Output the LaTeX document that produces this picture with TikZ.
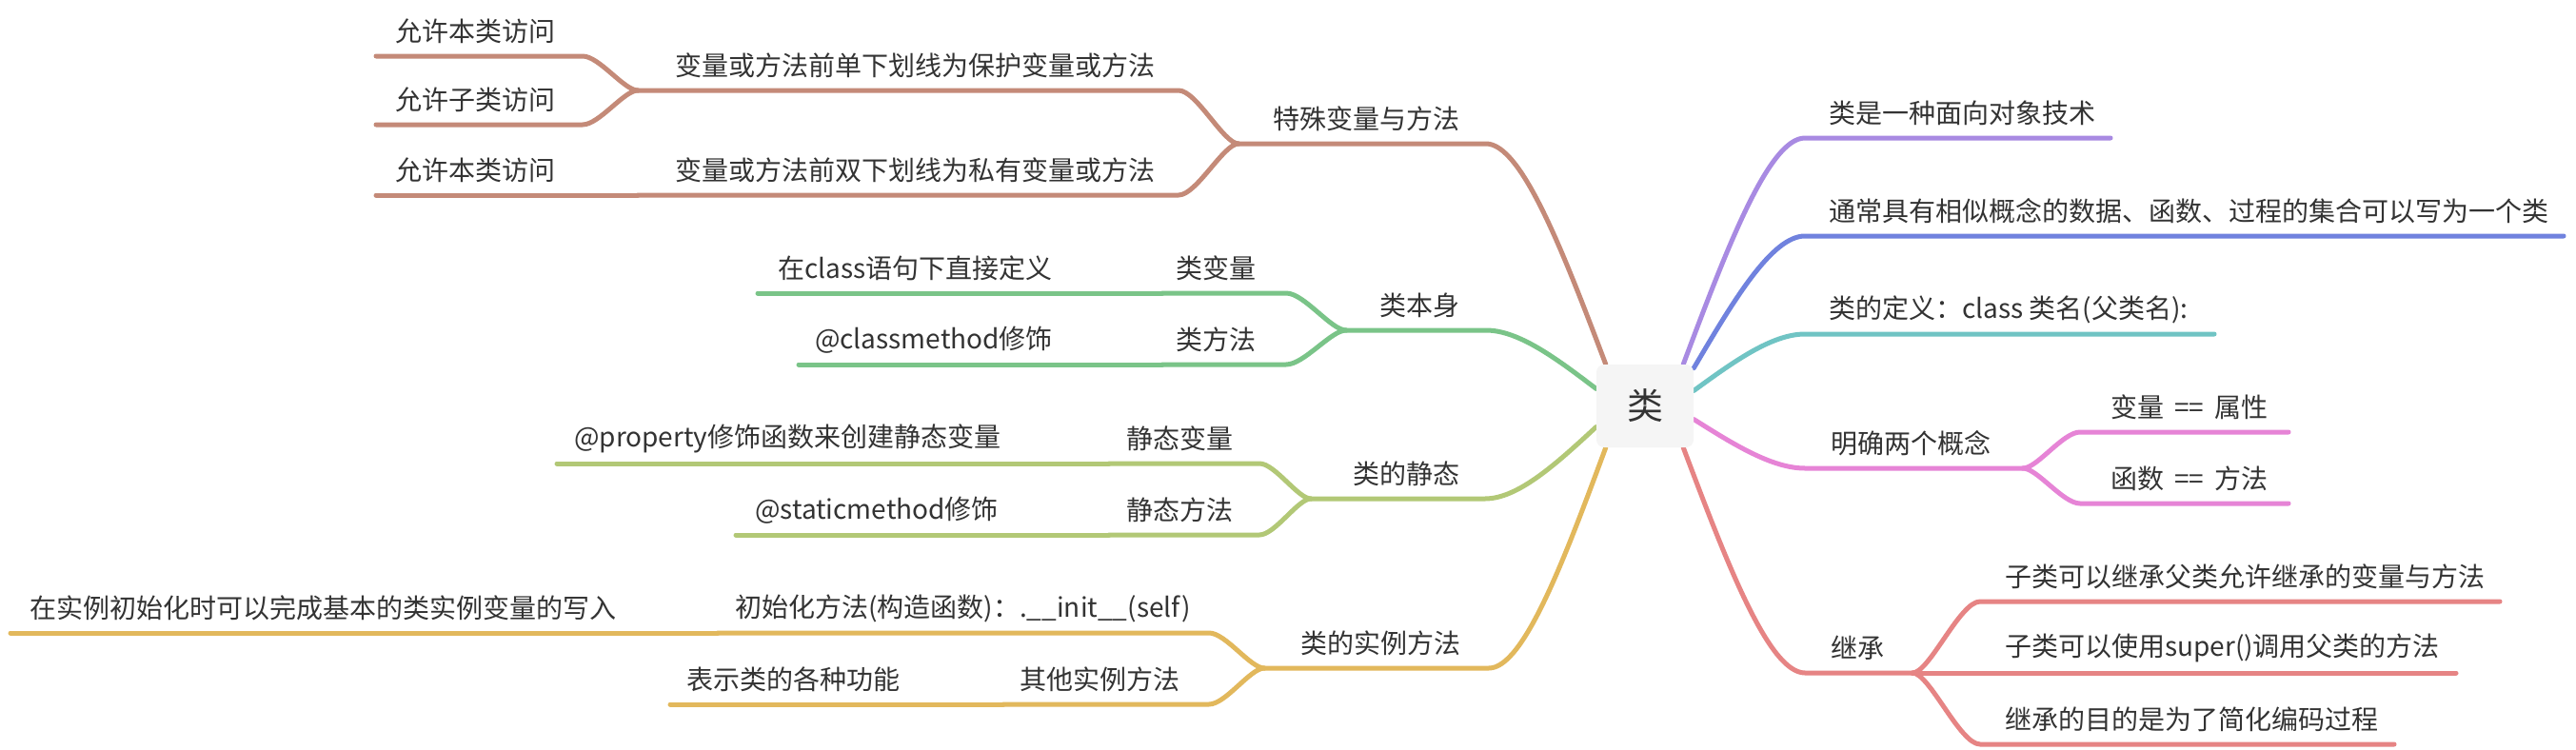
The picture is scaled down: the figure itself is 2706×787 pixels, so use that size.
\documentclass[tikz,border=0pt]{standalone}
\usepackage{fontspec}
\setmainfont{Noto Sans CJK SC}
\usetikzlibrary{calc,backgrounds}
\definecolor{cbrown}{RGB}{196,138,120}
\definecolor{cgreen}{RGB}{122,196,136}
\definecolor{cygreen}{RGB}{178,200,118}
\definecolor{cyellow}{RGB}{226,184,92}
\definecolor{cpurple}{RGB}{168,138,226}
\definecolor{cblue}{RGB}{112,130,222}
\definecolor{cteal}{RGB}{112,196,196}
\definecolor{cpink}{RGB}{230,132,214}
\definecolor{cred}{RGB}{230,132,132}
\definecolor{textc}{RGB}{51,51,51}
\definecolor{boxfill}{RGB}{245,245,245}
\begin{document}
\begin{tikzpicture}[x=1pt,y=-1pt,
  conn/.style={line width=5pt, line cap=round, line join=round},
  txt/.style={anchor=west, inner sep=0pt, text=textc, font=\fontsize{28}{34}\selectfont},
  widesp/.style={execute at begin node={\spaceskip=11pt\relax}},
  mainbr/.style={to path={let \p1=(\tikztostart), \p2=(\tikztotarget) in
     .. controls ({\x1+0.35*(\x2-\x1)},{\y1+0.5*(\y2-\y1)}) and ({\x2-0.3*(\x2-\x1)},\y2) .. (\tikztotarget)}},
  subbr/.style={to path={let \p1=(\tikztostart), \p2=(\tikztotarget) in
     .. controls ({\x1+0.25*(\x2-\x1)},\y1) and ({\x2-0.3*(\x2-\x1)},\y2) .. (\tikztotarget)}},
]
\useasboundingbox (0,0) rectangle (2706,787);

% root
\node[fill=boxfill, rounded corners=8pt, minimum width=102pt, minimum height=87pt,
      inner sep=0pt, text=textc, font=\fontsize{38}{44}\selectfont] (root) at (1728,426.5) {类};

% attachment points on the root
\coordinate (bR1) at ($(root.north east)+(-11,0)$);
\coordinate (bR2) at ($(root.north east)+(0,4)$);
\coordinate (bR3) at ($(root.east)+(0,-16)$);
\coordinate (bR4) at ($(root.east)+(0,14)$);
\coordinate (bR5) at ($(root.south east)+(-11,0)$);
\coordinate (bL1) at ($(root.north west)+(10,0)$);
\coordinate (bL2) at ($(root.west)+(0,-18)$);
\coordinate (bL3) at ($(root.west)+(0,22)$);
\coordinate (bL4) at ($(root.south west)+(10,0)$);

% ---------- right side ----------
\coordinate (sR1) at (1896,145); \coordinate (eR1) at (2217,145);
\node[txt] (tR1) at (1921,119) {类是一种面向对象技术};
\coordinate (sR2) at (1896,248); \coordinate (eR2) at (2693,248);
\node[txt] (tR2) at (1921,222) {通常具有相似概念的数据、函数、过程的集合可以写为一个类};
\coordinate (sR3) at (1896,351); \coordinate (eR3) at (2326,351);
\node[txt] (tR3) at (1921,325) {类的定义：class 类名(父类名):};
\coordinate (sR4) at (1896,492); \coordinate (eR4) at (2125,492);
\node[txt] (tR4) at (1923,466) {明确两个概念};
\coordinate (sR4a) at (2185,454); \coordinate (eR4a) at (2404,454);
\node[txt, widesp] (tR4a) at (2217,428) {变量 == 属性};
\coordinate (sR4b) at (2185,529); \coordinate (eR4b) at (2404,529);
\node[txt, widesp] (tR4b) at (2217,503) {函数 == 方法};
\coordinate (sR5) at (1896,707); \coordinate (eR5) at (2009,707);
\node[txt] (tR5) at (1923,681) {继承};
\coordinate (sR5a) at (2080,632); \coordinate (eR5a) at (2626,632);
\node[txt] (tR5a) at (2106,606) {子类可以继承父类允许继承的变量与方法};
\coordinate (eR5b) at (2580,707);
\node[txt] (tR5b) at (2106,681) {子类可以使用super()调用父类的方法};
\coordinate (sR5c) at (2080,782); \coordinate (eR5c) at (2515,782);
\node[txt] (tR5c) at (2106,756) {继承的目的是为了简化编码过程};

% ---------- left side ----------
\coordinate (sL1) at (1561,151); \coordinate (eL1) at (1301,151);
\node[txt] (tL1) at (1337,125) {特殊变量与方法};
\coordinate (sL1a) at (1238,95); \coordinate (eL1a) at (670,95);
\node[txt] (tL1a) at (709,69) {变量或方法前单下划线为保护变量或方法};
\coordinate (sL1a1) at (612,59); \coordinate (eL1a1) at (395,59);
\node[txt] (tL1a1) at (415,33) {允许本类访问};
\coordinate (sL1a2) at (612,131); \coordinate (eL1a2) at (395,131);
\node[txt] (tL1a2) at (415,105) {允许子类访问};
\coordinate (sL1b) at (1238,205); \coordinate (eL1b) at (670,205);
\node[txt] (tL1b) at (709,179) {变量或方法前双下划线为私有变量或方法};
\coordinate (eL1b1) at (395,205);
\node[txt] (tL1b1) at (415,179) {允许本类访问};

\coordinate (sL2) at (1561,347); \coordinate (eL2) at (1414,347);
\node[txt] (tL2) at (1449,321) {类本身};
\coordinate (sL2a) at (1351,308); \coordinate (eL2a) at (1221,308);
\node[txt] (tL2a) at (1235,282) {类变量};
\coordinate (eL2a1) at (796,308);
\node[txt] (tL2a1) at (817,282) {在class语句下直接定义};
\coordinate (sL2b) at (1351,383); \coordinate (eL2b) at (1221,383);
\node[txt] (tL2b) at (1235,357) {类方法};
\coordinate (eL2b1) at (839,383);
\node[txt] (tL2b1) at (856,357) {@classmethod修饰};

\coordinate (sL3) at (1560,524); \coordinate (eL3) at (1377,524);
\node[txt] (tL3) at (1421,498) {类的静态};
\coordinate (sL3a) at (1323,487); \coordinate (eL3a) at (1165,487);
\node[txt] (tL3a) at (1183,461) {静态变量};
\coordinate (eL3a1) at (585,487);
\node[txt] (tL3a1) at (603,461) {@property修饰函数来创建静态变量};
\coordinate (sL3b) at (1323,562); \coordinate (eL3b) at (1165,562);
\node[txt] (tL3b) at (1183,536) {静态方法};
\coordinate (eL3b1) at (773,562);
\node[txt] (tL3b1) at (793,536) {@staticmethod修饰};

\coordinate (sL4) at (1564,702); \coordinate (eL4) at (1328,702);
\node[txt] (tL4) at (1366,676) {类的实例方法};
\coordinate (sL4a) at (1270,665); \coordinate (eL4a) at (754,665);
\node[txt] (tL4a) at (772,639) {初始化方法(构造函数)：.\_\_init\_\_(self)};
\coordinate (eL4a1) at (11,665);
\node[txt] (tL4a1) at (31,639) {在实例初始化时可以完成基本的类实例变量的写入};
\coordinate (sL4b) at (1270,740); \coordinate (eL4b) at (1054,740);
\node[txt] (tL4b) at (1071,714) {其他实例方法};
\coordinate (eL4b1) at (704,740);
\node[txt] (tL4b1) at (721,714) {表示类的各种功能};

% ---------- connectors ----------
\begin{scope}[on background layer]
\fill[white] (0,0) rectangle (2706,787);
\draw[conn, cpurple] (bR1) to[mainbr] (sR1) -- (eR1);
\draw[conn, cblue]   (bR2) to[mainbr] (sR2) -- (eR2);
\draw[conn, cteal]   (bR3) to[mainbr] (sR3) -- (eR3);
\draw[conn, cpink]   (bR4) to[mainbr] (sR4) -- (eR4);
\draw[conn, cpink]   (eR4) to[subbr] (sR4a) -- (eR4a);
\draw[conn, cpink]   (eR4) to[subbr] (sR4b) -- (eR4b);
\draw[conn, cred]    (bR5) to[mainbr] (sR5) -- (eR5);
\draw[conn, cred]    (eR5) to[subbr] (sR5a) -- (eR5a);
\draw[conn, cred]    (eR5) -- (eR5b);
\draw[conn, cred]    (eR5) to[subbr] (sR5c) -- (eR5c);

\draw[conn, cbrown]  (bL1) to[mainbr] (sL1) -- (eL1);
\draw[conn, cbrown]  (eL1) to[subbr] (sL1a) -- (eL1a);
\draw[conn, cbrown]  (eL1a) to[subbr] (sL1a1) -- (eL1a1);
\draw[conn, cbrown]  (eL1a) to[subbr] (sL1a2) -- (eL1a2);
\draw[conn, cbrown]  (eL1) to[subbr] (sL1b) -- (eL1b);
\draw[conn, cbrown]  (eL1b) -- (eL1b1);

\draw[conn, cgreen]  (bL2) to[mainbr] (sL2) -- (eL2);
\draw[conn, cgreen]  (eL2) to[subbr] (sL2a) -- (eL2a);
\draw[conn, cgreen]  (eL2a) -- (eL2a1);
\draw[conn, cgreen]  (eL2) to[subbr] (sL2b) -- (eL2b);
\draw[conn, cgreen]  (eL2b) -- (eL2b1);

\draw[conn, cygreen] (bL3) to[mainbr] (sL3) -- (eL3);
\draw[conn, cygreen] (eL3) to[subbr] (sL3a) -- (eL3a);
\draw[conn, cygreen] (eL3a) -- (eL3a1);
\draw[conn, cygreen] (eL3) to[subbr] (sL3b) -- (eL3b);
\draw[conn, cygreen] (eL3b) -- (eL3b1);

\draw[conn, cyellow] (bL4) to[mainbr] (sL4) -- (eL4);
\draw[conn, cyellow] (eL4) to[subbr] (sL4a) -- (eL4a);
\draw[conn, cyellow] (eL4a) -- (eL4a1);
\draw[conn, cyellow] (eL4) to[subbr] (sL4b) -- (eL4b);
\draw[conn, cyellow] (eL4b) -- (eL4b1);
\end{scope}
\end{tikzpicture}
\end{document}
